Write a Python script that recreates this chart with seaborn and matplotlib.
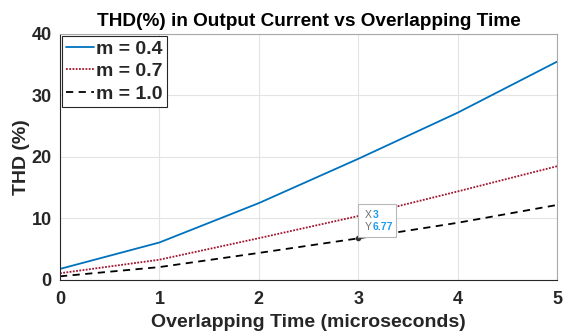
import numpy as np
import pandas as pd
import matplotlib
matplotlib.use("Agg")
import matplotlib.pyplot as plt
import seaborn as sns
from matplotlib.patches import FancyBboxPatch

overlap_time = [0, 1, 2, 3, 4, 5]
thd_m04 = [1.8, 6.1, 12.5, 19.7, 27.2, 35.5]
thd_m07 = [1.1, 3.3, 6.8, 10.4, 14.4, 18.5]
thd_m10 = [0.6, 2.1, 4.4, 6.77, 9.3, 12.2]
labels = ["m = 0.4", "m = 0.7", "m = 1.0"]
tip_x, tip_y = 3, 6.77

df = pd.DataFrame({
    "t": overlap_time * 3,
    "thd": thd_m04 + thd_m07 + thd_m10,
    "m": [labels[0]] * 6 + [labels[1]] * 6 + [labels[2]] * 6,
})

sns.set_style("whitegrid")
plt.rcParams['font.family'] = ['Liberation Sans', 'DejaVu Sans']

fig = plt.figure(figsize=(5.63, 3.34), dpi=100)
ax = fig.add_axes([60/563, 1-280/334, 497/563, 246/334])

colors = {labels[0]: "#0072BD", labels[1]: "#A2142F", labels[2]: "#000000"}
styles = {labels[0]: "-", labels[1]: (0, (1, 0.8)), labels[2]: (0, (4, 3))}
for lab in labels:
    sub = df[df.m == lab]
    sns.lineplot(data=sub, x="t", y="thd", ax=ax, color=colors[lab],
                 linestyle=styles[lab], linewidth=1.3, label=lab)

ax.set_xlim(0, 5)
ax.set_ylim(0, 40)
ax.set_xticks(overlap_time)
ax.set_yticks([0, 10, 20, 30, 40])
ax.grid(True, color="#e3e3e3", linewidth=0.8)
for lbl in ax.get_xticklabels() + ax.get_yticklabels():
    lbl.set_fontweight("bold")
    lbl.set_fontsize(13)
    lbl.set_color("#262626")
ax.tick_params(axis='x', length=4, color="#262626", direction="in", pad=8)
ax.tick_params(axis='y', length=4, color="#262626", direction="in", pad=6)
for s in ["left", "bottom"]:
    ax.spines[s].set_color("#262626")
    ax.spines[s].set_linewidth(0.8)
for s in ["top", "right"]:
    ax.spines[s].set_color("#a8a8a8")
    ax.spines[s].set_linewidth(0.8)

ax.set_xlabel("Overlapping Time (microseconds)", fontsize=14, fontweight="bold",
              color="#262626", labelpad=4)
ax.set_ylabel("THD (%)", fontsize=14, fontweight="bold", color="#262626", labelpad=1)
ax.set_title("THD(%) in Output Current vs Overlapping Time", fontsize=13.7,
             fontweight="bold", color="black", pad=6)

leg = ax.legend(loc="upper left", prop={"weight": "bold", "size": 14},
                frameon=True, fancybox=False, edgecolor="#262626",
                handlelength=1.45, handletextpad=0.08, borderpad=0.22,
                labelspacing=0.25, borderaxespad=0.1)
leg.get_frame().set_linewidth(0.8)
leg.get_frame().set_alpha(1)

# data tip
ax.plot([tip_x], [tip_y], "o", color="#333333", markersize=3, zorder=5)
box = FancyBboxPatch((3.0, 7.0), 0.38, 5.35, boxstyle="square,pad=0",
                     facecolor="white", edgecolor="#b8b8b8", linewidth=0.8,
                     zorder=6)
ax.add_patch(box)
ax.text(3.07, 10.6, "X", fontsize=7.5, color="#707070", va="center", ha="left", zorder=7)
ax.text(3.15, 10.6, f"{tip_x:g}", fontsize=7.5, color="#1a9cf0", fontweight="bold",
        va="center", ha="left", zorder=7)
ax.text(3.07, 8.6, "Y", fontsize=7.5, color="#707070", va="center", ha="left", zorder=7)
ax.text(3.15, 8.6, f"{tip_y:.2f}", fontsize=7.5, color="#1a9cf0", fontweight="bold",
        va="center", ha="left", zorder=7)

fig.savefig("out.png", dpi=100)
